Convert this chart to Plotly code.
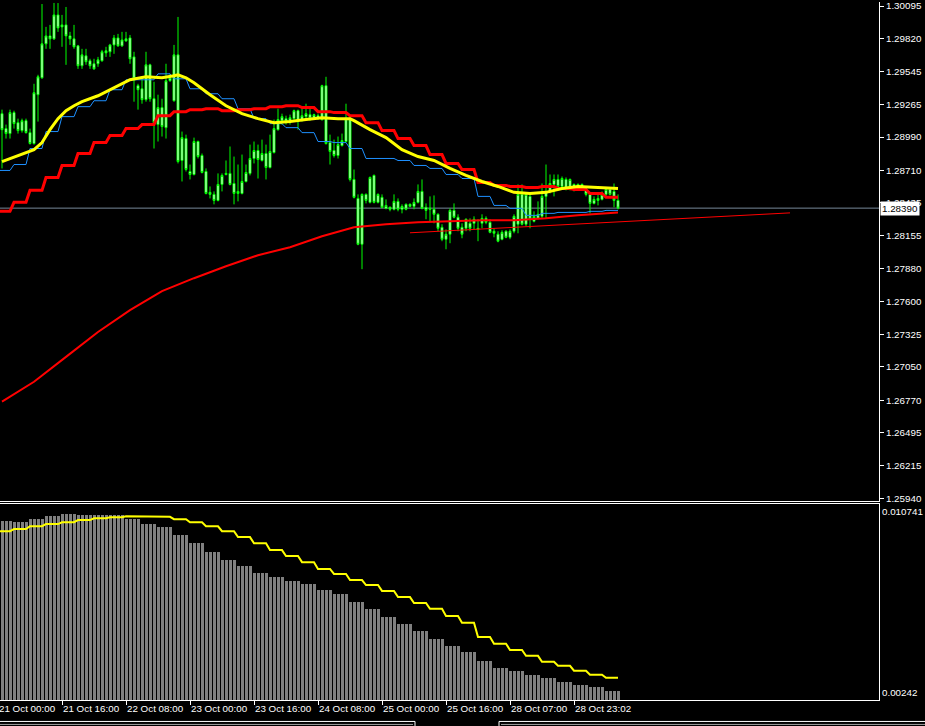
import plotly.graph_objects as go

# ---------------- data (H1 candles, index 0 = 21 Oct 01:00) ----------------
opens = [1.29187,1.29061,1.29019,1.29196,1.29111,1.29044,1.29128,1.29027,1.28935,1.29347,
         1.29490,1.29776,1.29843,1.29818,1.30020,1.29919,1.29936,1.29843,1.29818,1.29759,
         1.29591,1.29675,1.29633,1.29608,1.29608,1.29633,1.29700,1.29709,1.29767,1.29826,
         1.29759,1.29801,1.29826,1.29666,1.29423,1.29397,1.29305,1.29599,1.29313,1.29095,
         1.29238,1.29069,1.29465,1.29296,1.29683,1.28792,1.28977,1.28699,1.28674,1.28952,
         1.28834,1.28699,1.28523,1.28506,1.28455,1.28590,1.28674,1.28683,1.28598,1.28514,
         1.28514,1.28615,1.28683,1.28809,1.28876,1.28792,1.28851,1.28733,1.28859,1.29052,
         1.29128,1.29145,1.29128,1.29145,1.29212,1.29137,1.29162,1.29179,1.29153,1.29170,
         1.29137,1.29423,1.28943,1.28876,1.28834,1.28918,1.28952,1.29145,1.28632,1.28472,
         1.28085,1.28506,1.28439,1.28666,1.28439,1.28481,1.28388,1.28397,1.28380,1.28447,
         1.28380,1.28422,1.28405,1.28405,1.28439,1.28531,1.28397,1.28380,1.28380,1.28338,
         1.28228,1.28127,1.28170,1.28371,1.28313,1.28228,1.28220,1.28262,1.28262,1.28220,
         1.28262,1.28304,1.28270,1.28195,1.28170,1.28127,1.28195,1.28144,1.28195,1.28254,
         1.28506,1.28254,1.28489,1.28279,1.28304,1.28321,1.28489,1.28531,1.28590,1.28632,
         1.28573,1.28632,1.28548,1.28590,1.28573,1.28590,1.28548,1.28506,1.28430,1.28455,
         1.28464,1.28506,1.28548,1.28531,1.28455]
highs = [1.29221,1.29095,1.29221,1.29212,1.29145,1.29145,1.29145,1.29061,1.29439,1.29515,
         1.30112,1.29919,1.29936,1.30121,1.30120,1.30020,1.30087,1.29877,1.29936,1.29767,
         1.29734,1.29734,1.29650,1.29650,1.29666,1.29725,1.29751,1.29776,1.29851,1.29860,
         1.29877,1.29877,1.29851,1.29709,1.29439,1.29481,1.29709,1.29608,1.29456,1.29347,
         1.29313,1.29608,1.29523,1.29767,1.30003,1.29036,1.29010,1.28758,1.28985,1.28960,
         1.28851,1.28725,1.28573,1.28531,1.28683,1.28683,1.28792,1.28910,1.28825,1.28758,
         1.28842,1.28758,1.28926,1.28952,1.28926,1.28968,1.28926,1.29010,1.29137,1.29229,
         1.29187,1.29170,1.29179,1.29221,1.29221,1.29229,1.29271,1.29229,1.29187,1.29187,
         1.29431,1.29498,1.29010,1.28968,1.28994,1.29019,1.29271,1.29162,1.28716,1.28506,
         1.28514,1.28514,1.28657,1.28674,1.28514,1.28506,1.28464,1.28405,1.28506,1.28472,
         1.28422,1.28430,1.28430,1.28472,1.28590,1.28632,1.28430,1.28489,1.28497,1.28346,
         1.28254,1.28211,1.28388,1.28430,1.28338,1.28262,1.28304,1.28304,1.28321,1.28296,
         1.28338,1.28321,1.28296,1.28220,1.28195,1.28203,1.28203,1.28211,1.28338,1.28590,
         1.28590,1.28514,1.28506,1.28363,1.28447,1.28598,1.28758,1.28674,1.28674,1.28674,
         1.28657,1.28649,1.28640,1.28598,1.28598,1.28598,1.28565,1.28514,1.28489,1.28514,
         1.28531,1.28556,1.28556,1.28598,1.28506]
lows = [1.28725,1.28977,1.28977,1.29061,1.29019,1.29027,1.29019,1.28926,1.28926,1.29120,
        1.29481,1.29734,1.29734,1.29809,1.29877,1.29751,1.29599,1.29767,1.29734,1.29565,
        1.29565,1.29599,1.29565,1.29557,1.29582,1.29625,1.29666,1.29666,1.29692,1.29751,
        1.29751,1.29793,1.29608,1.29288,1.29221,1.29271,1.29288,1.29288,1.28893,1.28952,
        1.28994,1.28977,1.29456,1.29288,1.28767,1.28615,1.28699,1.28632,1.28666,1.28809,
        1.28683,1.28506,1.28472,1.28422,1.28447,1.28531,1.28666,1.28582,1.28422,1.28447,
        1.28506,1.28607,1.28666,1.28767,1.28640,1.28783,1.28632,1.28725,1.28851,1.29044,
        1.29095,1.29095,1.29095,1.29137,1.29052,1.29120,1.29145,1.29128,1.29137,1.29137,
        1.29128,1.28926,1.28758,1.28817,1.28809,1.28910,1.28943,1.28615,1.28472,1.28077,
        1.27875,1.28430,1.28430,1.28430,1.28430,1.28388,1.28380,1.28363,1.28371,1.28363,
        1.28346,1.28371,1.28397,1.28380,1.28430,1.28380,1.28296,1.28279,1.28262,1.28195,
        1.28111,1.28043,1.28094,1.28304,1.28195,1.28136,1.28195,1.28195,1.28211,1.28111,
        1.28220,1.28254,1.28178,1.28144,1.28102,1.28119,1.28136,1.28128,1.28178,1.28178,
        1.28245,1.28237,1.28220,1.28270,1.28296,1.28304,1.28304,1.28514,1.28489,1.28556,
        1.28556,1.28540,1.28540,1.28531,1.28565,1.28548,1.28489,1.28346,1.28422,1.28413,
        1.28455,1.28489,1.28497,1.28397,1.28380]
closes = [1.29052,1.29019,1.29196,1.29103,1.29044,1.29128,1.29027,1.28935,1.29364,1.29498,
          1.29776,1.29843,1.29818,1.30020,1.29910,1.29936,1.29843,1.29818,1.29751,1.29591,
          1.29683,1.29625,1.29591,1.29565,1.29641,1.29709,1.29717,1.29767,1.29826,1.29759,
          1.29809,1.29818,1.29650,1.29481,1.29389,1.29305,1.29599,1.29313,1.29111,1.29238,
          1.29078,1.29465,1.29490,1.29683,1.28783,1.28985,1.28716,1.28674,1.28952,1.28825,
          1.28691,1.28514,1.28506,1.28455,1.28590,1.28666,1.28683,1.28590,1.28514,1.28531,
          1.28615,1.28691,1.28809,1.28876,1.28800,1.28851,1.28733,1.28868,1.29061,1.29137,
          1.29162,1.29120,1.29153,1.29212,1.29128,1.29170,1.29187,1.29145,1.29179,1.29145,
          1.29423,1.28935,1.28868,1.28834,1.28926,1.28960,1.29145,1.28632,1.28481,1.28085,
          1.28506,1.28455,1.28649,1.28439,1.28506,1.28397,1.28413,1.28380,1.28447,1.28380,
          1.28405,1.28380,1.28422,1.28439,1.28531,1.28388,1.28371,1.28388,1.28338,1.28220,
          1.28127,1.28170,1.28371,1.28313,1.28220,1.28170,1.28296,1.28220,1.28296,1.28211,
          1.28304,1.28270,1.28186,1.28178,1.28111,1.28186,1.28144,1.28195,1.28321,1.28506,
          1.28254,1.28506,1.28296,1.28321,1.28338,1.28489,1.28531,1.28598,1.28632,1.28573,
          1.28640,1.28548,1.28632,1.28548,1.28590,1.28556,1.28506,1.28430,1.28464,1.28472,
          1.28506,1.28548,1.28506,1.28455,1.28390]

# smooth yellow MA (sampled bars)
yellow_ma_idx = [0,4,8,10,12,14,16,18,20,24,28,32,36,40,43,44,46,48,52,56,60,64,68,72,76,80,84,
                 87,88,92,96,100,104,108,112,116,120,124,128,132,136,140,144,148,152,154]
yellow_ma = [1.28783,1.28834,1.28884,1.28943,1.29052,1.29145,1.29212,1.29254,1.29288,1.29338,
             1.29406,1.29473,1.29498,1.29490,1.29507,1.29515,1.29490,1.29448,1.29347,1.29254,
             1.29187,1.29145,1.29111,1.29120,1.29137,1.29153,1.29145,1.29145,1.29128,1.29052,
             1.28985,1.28884,1.28825,1.28792,1.28725,1.28666,1.28615,1.28573,1.28523,1.28514,
             1.28523,1.28556,1.28573,1.28565,1.28556,1.28556]

# long red MA (sampled bars)
slow_ma_idx = [0,8,16,24,32,40,48,56,64,72,80,88,96,104,112,120,128,136,144,150,154]
slow_ma = [1.26757,1.26925,1.27135,1.27345,1.27530,1.27690,1.27799,1.27900,1.27993,1.28060,
           1.28153,1.28228,1.28254,1.28270,1.28279,1.28287,1.28287,1.28304,1.28329,1.28346,1.28354]

# projected thin red line
proj_idx = [102, 197]
proj_val = [1.28182, 1.28350]

# H4 values (one per 4-hour block) shown on the H1 chart
blue_h4 = [1.28708,1.28758,1.28893,1.29036,1.29162,1.29246,1.29296,1.29389,1.29473,1.29473,
           1.29523,1.29481,1.29397,1.29355,1.29313,1.29229,1.29145,1.29103,1.29069,1.29027,
           1.28952,1.28943,1.28893,1.28809,1.28809,1.28792,1.28750,1.28725,1.28674,1.28640,
           1.28489,1.28413,1.28388,1.28329,1.28346,1.28354,1.28354,1.28363,1.28371]
red_h4 = [1.28363,1.28439,1.28540,1.28649,1.28750,1.28851,1.28943,1.29002,1.29061,1.29095,
          1.29170,1.29204,1.29221,1.29229,1.29212,1.29221,1.29229,1.29246,1.29254,1.29238,
          1.29204,1.29196,1.29170,1.29111,1.29044,1.28977,1.28918,1.28842,1.28767,1.28716,
          1.28607,1.28582,1.28573,1.28565,1.28573,1.28556,1.28548,1.28514,1.28481]
hist_h4 = [0.01002,0.00998,0.01011,0.01023,0.01032,0.01028,0.01028,0.01028,0.01011,0.00990,
           0.00977,0.00943,0.00909,0.00871,0.00838,0.00812,0.00783,0.00766,0.00749,0.00736,
           0.00711,0.00694,0.00660,0.00631,0.00597,0.00567,0.00538,0.00504,0.00474,0.00449,
           0.00411,0.00381,0.00365,0.00350,0.00335,0.00322,0.00309,0.00297,0.00280]
signal_h4 = [0.00957,0.00966,0.00978,0.00987,0.00995,0.01004,0.01012,0.01016,0.01020,0.01018,
             0.01018,0.01008,0.00995,0.00978,0.00957,0.00932,0.00906,0.00877,0.00852,0.00826,
             0.00797,0.00776,0.00750,0.00729,0.00704,0.00678,0.00653,0.00628,0.00598,0.00569,
             0.00509,0.00480,0.00454,0.00429,0.00404,0.00387,0.00366,0.00349,0.00336]

price_ticks = [1.30095,1.29820,1.29545,1.29265,1.28990,1.28710,1.28435,1.28155,1.27880,
               1.27600,1.27325,1.27050,1.26770,1.26495,1.26215,1.25940]
time_tick_idx = [-1,15,31,47,63,79,95,111,127,143]
time_tick_text = ["21 Oct 00:00","21 Oct 16:00","22 Oct 08:00","23 Oct 00:00","23 Oct 16:00",
                  "24 Oct 08:00","25 Oct 00:00","25 Oct 16:00","28 Oct 07:00","28 Oct 23:02"]
bid = 1.28390
osc_max, osc_min = 0.010741, 0.00242

# ---------------- build ----------------
n = len(opens)
bars = list(range(n))
step_x = list(range(-1, n))
def h4(arr):
    return [arr[(i + 1) // 4] for i in step_x]

FONT = "Liberation Sans"
TXT = "#FFFFFF"
FS = 9.8
W, H = 925, 726
ML, MR, MT, MB = 0, 46, 0, 26
PW, PH = W - ML - MR, H - MT - MB
xr = [-0.5, 219.25]

def px_x(px):   # pixel column -> paper x
    return (px - ML) / PW
def px_y(py):   # pixel row -> paper y
    return (H - MB - py) / PH

fig = go.Figure()

fig.add_trace(go.Candlestick(
    x=bars, open=opens, high=highs, low=lows, close=closes,
    increasing=dict(line=dict(color="#00FF00", width=1), fillcolor="#FFFFFF"),
    decreasing=dict(line=dict(color="#00FF00", width=1), fillcolor="#FFFFFF"),
    whiskerwidth=0, xaxis="x", yaxis="y", hoverinfo="skip"))

fig.add_trace(go.Scatter(x=step_x, y=h4(blue_h4), mode="lines",
                         line=dict(color="#1E90FF", width=1), xaxis="x", yaxis="y"))
fig.add_trace(go.Scatter(x=slow_ma_idx, y=slow_ma, mode="lines",
                         line=dict(color="#FF0000", width=2), xaxis="x", yaxis="y"))
fig.add_trace(go.Scatter(x=proj_idx, y=proj_val, mode="lines",
                         line=dict(color="#FF0000", width=1), xaxis="x", yaxis="y"))
fig.add_trace(go.Scatter(x=step_x, y=h4(red_h4), mode="lines",
                         line=dict(color="#FF0000", width=3), xaxis="x", yaxis="y"))
fig.add_trace(go.Scatter(x=yellow_ma_idx, y=yellow_ma, mode="lines",
                         line=dict(color="#FFFF00", width=3), xaxis="x", yaxis="y"))

fig.add_trace(go.Bar(x=step_x, y=h4(hist_h4), width=0.75,
                     marker=dict(color="#808080", line=dict(width=0)),
                     xaxis="x2", yaxis="y2"))
fig.add_trace(go.Scatter(x=step_x, y=h4(signal_h4), mode="lines",
                         line=dict(color="#FFFF00", width=2), xaxis="x2", yaxis="y2"))

main_dom = [px_y(500), 1]
sub_dom = [0, px_y(503)]

annotations = []
for i, t in zip(time_tick_idx, time_tick_text):
    xp = (i - xr[0]) / (xr[1] - xr[0])
    annotations.append(dict(x=xp, y=px_y(709), xref="paper", yref="paper", text=t,
                            showarrow=False, xanchor="left", yanchor="middle", xshift=-1,
                            font=dict(family=FONT, size=FS, color=TXT)))
annotations.append(dict(x=1, y=bid, xref="paper", yref="y", text=f"{bid:.5f}",
                        showarrow=False, xanchor="left", yanchor="middle", xshift=1,
                        bgcolor="#FFFFFF", borderpad=1,
                        font=dict(family=FONT, size=FS, color="#000000")))
annotations.append(dict(x=1, y=osc_max, xref="paper", yref="y2", text=f"{osc_max}",
                        showarrow=False, xanchor="left", yanchor="top", xshift=1,
                        font=dict(family=FONT, size=FS, color=TXT)))
annotations.append(dict(x=1, y=osc_min, xref="paper", yref="y2", text=f"{osc_min}",
                        showarrow=False, xanchor="left", yanchor="bottom", xshift=1,
                        font=dict(family=FONT, size=FS, color=TXT)))

shapes = [dict(type="line", xref="paper", x0=0, x1=1, yref="y", y0=bid, y1=bid,
               line=dict(color="#778899", width=1), layer="below")]
# terminal tab strip at the very bottom
tab_line = dict(color="#FFFFFF", width=1)
shapes += [
    dict(type="line", xref="paper", yref="paper", x0=px_x(0), x1=px_x(415),
         y0=px_y(721.5), y1=px_y(721.5), line=tab_line),
    dict(type="line", xref="paper", yref="paper", x0=px_x(499), x1=px_x(925),
         y0=px_y(721.5), y1=px_y(721.5), line=tab_line),
    dict(type="line", xref="paper", yref="paper", x0=px_x(415), x1=px_x(415),
         y0=px_y(721.5), y1=px_y(726), line=tab_line),
    dict(type="line", xref="paper", yref="paper", x0=px_x(499), x1=px_x(499),
         y0=px_y(721.5), y1=px_y(726), line=tab_line),
    dict(type="line", xref="paper", yref="paper", x0=px_x(0), x1=px_x(413),
         y0=px_y(724.5), y1=px_y(724.5), line=dict(color="#A0A0A0", width=1)),
    dict(type="line", xref="paper", yref="paper", x0=px_x(501), x1=px_x(925),
         y0=px_y(724.5), y1=px_y(724.5), line=dict(color="#A0A0A0", width=1)),
]

fig.update_layout(
    width=W, height=H,
    margin=dict(l=ML, r=MR, t=MT, b=MB, pad=0),
    paper_bgcolor="#000000", plot_bgcolor="#000000",
    showlegend=False, bargap=0,
    xaxis=dict(domain=[0, 1], anchor="y", range=xr, showgrid=False, zeroline=False,
               showticklabels=False, showline=True, linecolor="#FFFFFF", linewidth=1,
               ticks="", rangeslider=dict(visible=False), fixedrange=True),
    yaxis=dict(domain=main_dom, anchor="x", range=[1.25923, 1.30129], side="right",
               showgrid=False, zeroline=False, showline=True, linecolor="#FFFFFF",
               linewidth=1, ticks="outside", ticklen=4, tickcolor="#FFFFFF",
               tickvals=price_ticks, ticktext=[f"{v:.5f}" for v in price_ticks],
               ticklabeloverflow="allow",
               tickfont=dict(family=FONT, size=FS, color=TXT)),
    xaxis2=dict(domain=[0, 1], anchor="y2", range=xr, matches="x", showgrid=False,
                zeroline=False, showline=True, mirror=True, linecolor="#FFFFFF",
                linewidth=1, ticks="outside", ticklen=4, tickcolor="#FFFFFF",
                tickvals=time_tick_idx, showticklabels=False),
    yaxis2=dict(domain=sub_dom, anchor="x2", range=[osc_min, osc_max], side="right",
                showgrid=False, zeroline=False, showline=True, linecolor="#FFFFFF",
                linewidth=1, ticks="", showticklabels=False),
    annotations=annotations, shapes=shapes,
)

fig.write_html("out.html", config={"displayModeBar": False},
               post_script="document.body.style.margin='0';document.body.style.overflow='hidden';")
